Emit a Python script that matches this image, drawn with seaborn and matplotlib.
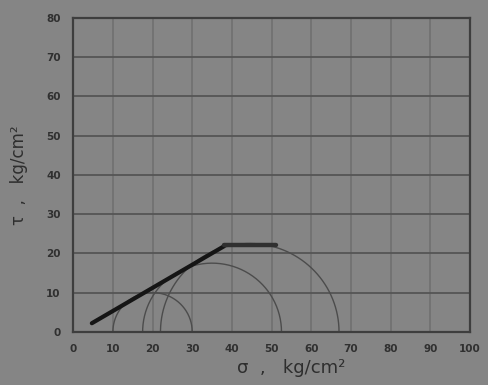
import numpy as np
import pandas as pd
import matplotlib
matplotlib.use("Agg")
import matplotlib.pyplot as plt
import seaborn as sns

# Mohr circles (kg/cm^2)
circle_centers = [20.0, 35.0, 44.5]
circle_radii = [10.0, 17.5, 22.5]

# Failure envelope
envelope_sigma = [4.7, 38.0]
envelope_tau = [2.2, 21.8]
cap_sigma = [38.0, 51.0]
cap_tau = [22.0, 22.0]

x_ticks = [0, 10, 20, 30, 40, 50, 60, 70, 80, 90, 100]
y_ticks = [0, 10, 20, 30, 40, 50, 60, 70, 80]

bg = "#858585"
sns.set_theme(style="white")
plt.rcParams['font.family'] = ['DejaVu Sans']

fig = plt.figure(figsize=(4.88, 3.85), dpi=100, facecolor=bg)
ax = fig.add_axes([0.150, 0.138, 0.813, 0.816])
ax.set_facecolor(bg)

# circles
rows = []
for i, (c, r) in enumerate(zip(circle_centers, circle_radii)):
    th = np.linspace(0, np.pi, 200)
    for t in th:
        rows.append({"circle": i, "sigma": c + r * np.cos(t), "tau": r * np.sin(t)})
df = pd.DataFrame(rows)
sns.lineplot(data=df, x="sigma", y="tau", units="circle", estimator=None,
             sort=False, color="#4c4c4c", linewidth=1.0, ax=ax, legend=False)

env = pd.DataFrame({"sigma": envelope_sigma, "tau": envelope_tau})
sns.lineplot(data=env, x="sigma", y="tau", sort=False, color="#151515",
             linewidth=3.0, ax=ax)
cap = pd.DataFrame({"sigma": cap_sigma, "tau": cap_tau})
sns.lineplot(data=cap, x="sigma", y="tau", sort=False, color="#303030",
             linewidth=3.2, ax=ax)

ax.set_xlim(0, 100)
ax.set_ylim(0, 80)
ax.set_xticks(x_ticks)
ax.set_yticks(y_ticks)
ax.set_xticklabels([str(v) for v in x_ticks], fontsize=7.5, fontweight="bold", color="#303030")
ax.set_yticklabels([str(v) for v in y_ticks], fontsize=7.5, fontweight="bold", color="#303030")
ax.tick_params(axis="both", length=0)
ax.tick_params(axis="x", pad=9)
ax.tick_params(axis="y", pad=9)

ax.xaxis.grid(True, color="#707070", linewidth=1.2)
ax.yaxis.grid(True, color="#555555", linewidth=1.3)
ax.set_axisbelow(True)
for s in ax.spines.values():
    s.set_color("#3e3e3e")
    s.set_linewidth(1.6)

ax.set_xlabel("σ  ,   kg/cm²", fontsize=13, color="#2e2e2e")
ax.xaxis.set_label_coords(0.55, -0.085)
ax.set_ylabel("τ  ,   kg/cm²", fontsize=12, color="#2e2e2e")
ax.yaxis.set_label_coords(-0.115, 0.5)

fig.savefig("out.png", dpi=100, facecolor=bg)
